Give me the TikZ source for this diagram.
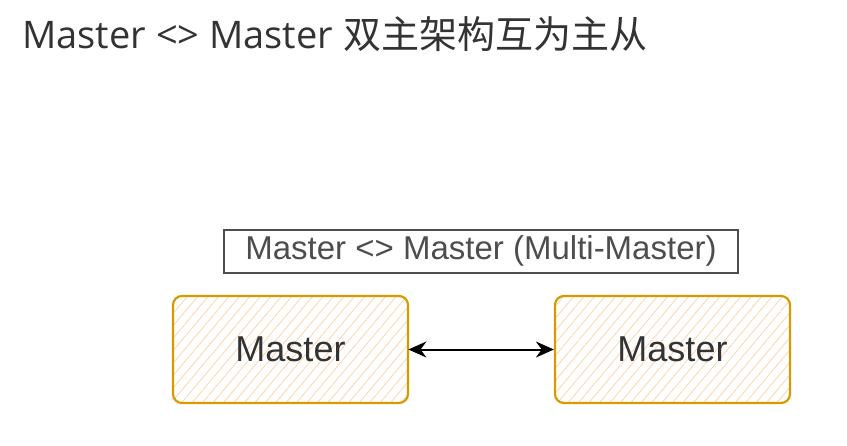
\documentclass[tikz,border=0pt]{standalone}
\usepackage{fontspec}
\setmainfont{Open Sans}
\newfontfamily\cjk{Noto Sans CJK SC}
\newfontfamily\drawfont{Liberation Sans}
\usetikzlibrary{arrows.meta, patterns.meta}
\definecolor{masteredge}{HTML}{D79B00}
\definecolor{masterhatch}{HTML}{FFD3A8}
\definecolor{titlegray}{HTML}{333333}
\definecolor{labelgray}{HTML}{4D4D4D}

\begin{document}
\begin{tikzpicture}[x=1pt, y=-1pt, node distance=382pt, thick,
    master/.style={rectangle, rounded corners=9pt, draw=masteredge, line width=2.2pt,
      minimum width=235pt, minimum height=107pt,
      pattern={Lines[angle=50, distance=8pt, line width=0.8pt]}, pattern color=masterhatch,
      font=\drawfont\fontsize{36}{40}\selectfont, text=titlegray},
    labelbox/.style={rectangle, draw=labelgray, line width=2pt,
      minimum width=514pt, minimum height=43pt,
      font=\drawfont\fontsize{33}{36}\selectfont, text=labelgray},
    duplex/.style={{Stealth[length=18pt, width=16pt]}-{Stealth[length=18pt, width=16pt]}, line width=2pt}]
    \useasboundingbox (0,0) rectangle (847,445);

    % Heading
    \node[anchor=base west, inner sep=0pt, text=titlegray,
      font=\fontsize{38}{42}\selectfont] (heading) at (22,48)
      {Master <> Master {\cjk 双主架构互为主从}};

    % Define boxes
    \node[labelbox] (mode) at (481,251) {Master <> Master (Multi-Master)};
    \node[master] (M1) at (290.5,349.5) {Master};
    \node[master, right of=M1] (M2) {Master};

    % Replication both ways
    \draw[duplex] (M1.east) -- (M2.west);

\end{tikzpicture}
\end{document}
